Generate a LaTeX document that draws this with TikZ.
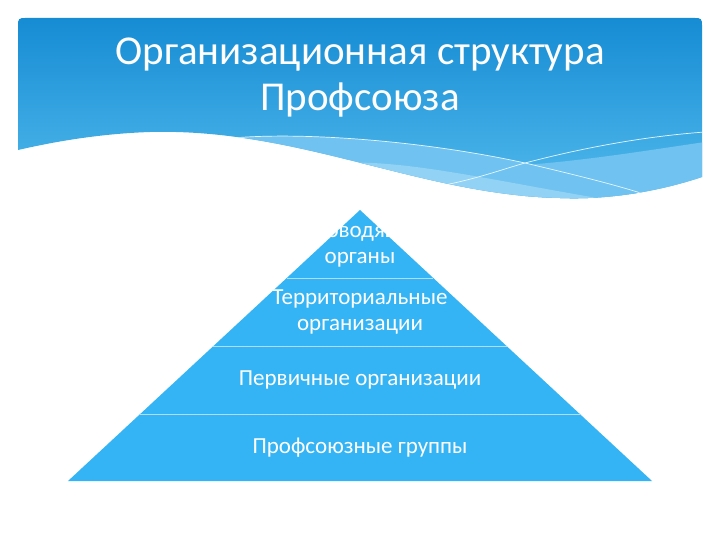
\documentclass[tikz,border=0pt]{standalone}
\usepackage{fontspec}
\setmainfont{Carlito}
\usetikzlibrary{calc}
\definecolor{hdtop}{RGB}{22,140,212}
\definecolor{hdbot}{RGB}{82,186,236}
\definecolor{bandA}{RGB}{112,194,240}
\definecolor{bandB}{RGB}{145,210,245}
\definecolor{pyr}{RGB}{52,180,244}
\definecolor{pyrline}{RGB}{175,222,250}
\tikzset{
  titletext/.style={text=white,font=\fontsize{41}{46}\selectfont,inner sep=0pt},
  leveltext/.style={text=white,font=\fontsize{23}{26}\selectfont,align=center,inner sep=0pt},
  divider/.style={draw=pyrline,line width=0.8pt},
  waveline/.style={draw=white!90!cyan,line width=0.7pt}
}
\begin{document}
\begin{tikzpicture}[x=1pt,y=-1pt]
\useasboundingbox (0,0) rectangle (720,540);
\fill[white] (0,0) rectangle (720,540);
% header
\def\headerpath{(18,150) -- (18,25) .. controls (18,19) and (19,18) .. (25,18) -- (695,18) .. controls (701,18) and (702,19) .. (702,25) -- (702,177) .. controls (660,191) and (610,200) .. (560,198) .. controls (420,195) and (300,128) .. (150,132) .. controls (90,134) and (40,145) .. (18,150) -- cycle}
\shade[top color=hdtop,bottom color=hdbot] \headerpath;
\begin{scope}
  \clip \headerpath;
  \fill[bandA] (525,165) .. controls (590,160) and (650,150) .. (705,142) -- (705,260) -- (525,260) -- cycle;
  \fill[bandA] (233,138) .. controls (300,132) and (420,140) .. (525,163) .. controls (580,176) and (620,186) .. (650,196) -- (650,260) -- (200,260) -- cycle;
  \fill[bandB] (300,168) .. controls (380,150) and (480,180) .. (640,205) -- (640,260) -- (300,260) -- cycle;
  \draw[waveline] (233,138) .. controls (300,132) and (420,140) .. (525,163) .. controls (580,176) and (620,186) .. (650,196);
  \draw[waveline] (440,186) .. controls (480,178) and (500,170) .. (525,163) .. controls (590,146) and (650,136) .. (705,132);
\end{scope}
\node[titletext] (t1) at (360,55) {Организационная структура};
\node[titletext] (t2) at (360,100) {Профсоюза};
% pyramid
\coordinate (apex) at (360,210);
\coordinate (bl) at (68,481);
\coordinate (br) at (652,481);
\fill[pyr] (apex) -- (bl) -- (br) -- cycle;
\foreach \f/\n in {0.25092/a,0.50185/b,0.75277/c}{
  \coordinate (l\n) at ($(apex)!\f!(bl)$);
  \coordinate (r\n) at ($(apex)!\f!(br)$);
  \draw[divider] (l\n) -- (r\n);
}
\node[leveltext] (lev1) at (360,245) {Руководящие\\органы};
\node[leveltext] (lev2) at (360,312) {Территориальные\\организации};
\node[leveltext] (lev3) at (360,380) {Первичные организации};
\node[leveltext] (lev4) at (360,448) {Профсоюзные группы};
\end{tikzpicture}
\end{document}
